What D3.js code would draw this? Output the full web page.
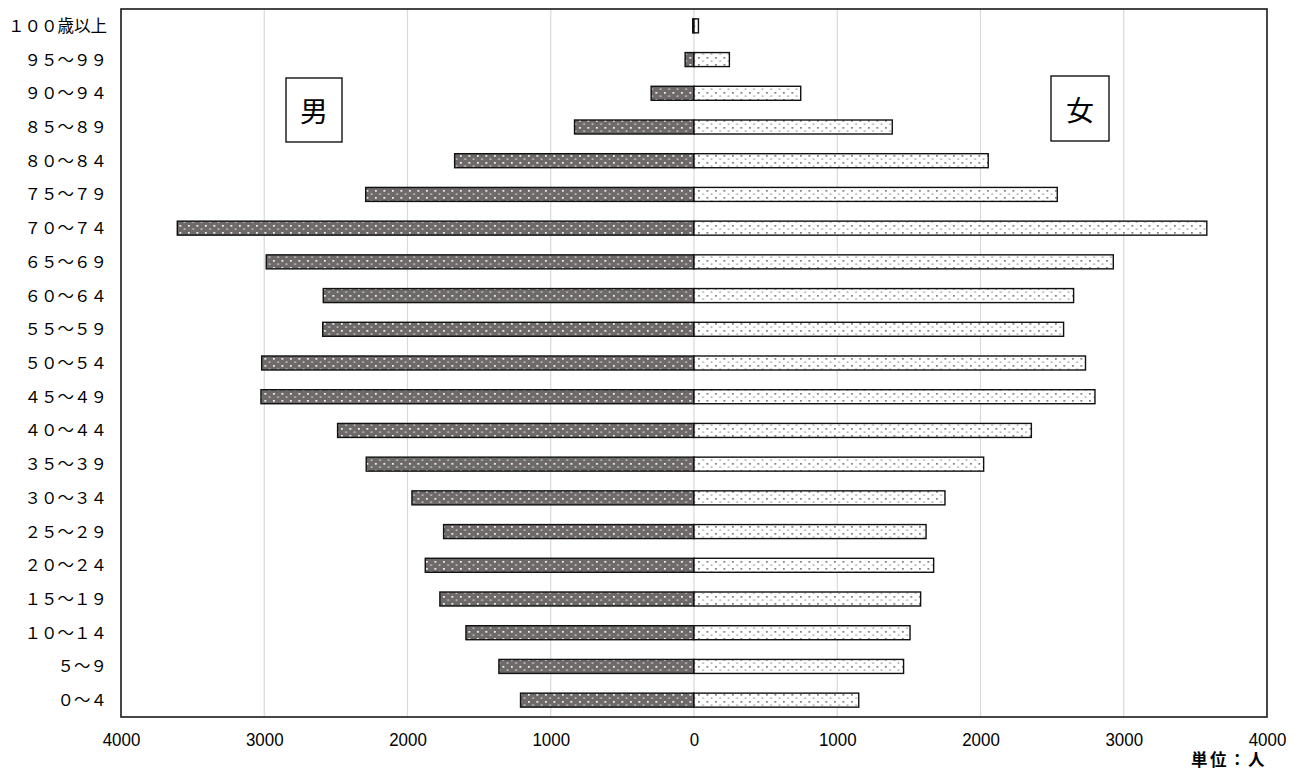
<!DOCTYPE html>
<html><head><meta charset="utf-8">
<script src="https://cdn.jsdelivr.net/npm/d3@7"></script>
<style>body{margin:0;background:#fff} svg{display:block}</style>
</head><body>
<svg id="chart" width="1298" height="771"></svg>
<script>
// Data (bottom to top)
const ageGroups = ["０～４","５～９","１０～１４","１５～１９","２０～２４","２５～２９","３０～３４","３５～３９","４０～４４","４５～４９","５０～５４","５５～５９","６０～６４","６５～６９","７０～７４","７５～７９","８０～８４","８５～８９","９０～９４","９５～９９","１００歳以上"];
const male =   [1211,1362,1592,1774,1876,1748,1969,2288,2488,3023,3018,2592,2588,2986,3607,2292,1671,834,299,62,9];
const female = [1150,1463,1508,1582,1673,1620,1752,2022,2355,2799,2733,2580,2650,2927,3580,2536,2054,1384,745,247,31];
const xTicks = [-4000,-3000,-2000,-1000,0,1000,2000,3000,4000];
const unitLabel = "単位：人";
const maleLabel = "男", femaleLabel = "女";

const svg = d3.select("#chart");
const L = 121, R = 1267, T = 9, B = 717;
const x = d3.scaleLinear().domain([-4000, 4000]).range([L, R]);
const y = d3.scaleBand().domain(ageGroups.slice().reverse()).range([T, B]).padding(0);
const barH = 14;

const defs = svg.append("defs");
const pm = defs.append("pattern").attr("id","pm").attr("patternUnits","userSpaceOnUse").attr("width",8.5).attr("height",7);
pm.append("rect").attr("width",8.5).attr("height",7).attr("fill","#6e6a6a");
pm.append("rect").attr("x",1).attr("y",1).attr("width",1.7).attr("height",1.7).attr("fill","#fff");
pm.append("rect").attr("x",5.25).attr("y",4.5).attr("width",1.7).attr("height",1.2).attr("fill","#e6e6e6");
const pf = defs.append("pattern").attr("id","pf").attr("patternUnits","userSpaceOnUse").attr("width",8.5).attr("height",7);
pf.append("rect").attr("width",8.5).attr("height",7).attr("fill","#fff");
pf.append("rect").attr("x",1).attr("y",1).attr("width",1.7).attr("height",1.7).attr("fill","#777");
pf.append("rect").attr("x",5.25).attr("y",4.5).attr("width",1.7).attr("height",1.2).attr("fill","#8e8e8e");

// gridlines
svg.append("g").selectAll("line").data(xTicks.filter(d => Math.abs(d) < 4000)).join("line")
  .attr("x1", d => x(d)).attr("x2", d => x(d)).attr("y1", T).attr("y2", B)
  .attr("stroke", "#d9d9d9").attr("stroke-width", 1.2);

const rows = ageGroups.map((a, i) => ({age: a, m: male[i], f: female[i]}));
// male bars
svg.append("g").selectAll("rect").data(rows).join("rect")
  .attr("x", d => x(-d.m)).attr("width", d => x(0) - x(-d.m))
  .attr("y", d => y(d.age) + y.bandwidth()/2 - barH/2).attr("height", barH)
  .attr("fill", "url(#pm)").attr("stroke", "#111").attr("stroke-width", 1.4);
// female bars
svg.append("g").selectAll("rect").data(rows).join("rect")
  .attr("x", x(0)).attr("width", d => x(d.f) - x(0))
  .attr("y", d => y(d.age) + y.bandwidth()/2 - barH/2).attr("height", barH)
  .attr("fill", "url(#pf)").attr("stroke", "#111").attr("stroke-width", 1.4);

// frame
svg.append("rect").attr("x", L).attr("y", T).attr("width", R - L).attr("height", B - T)
  .attr("fill", "none").attr("stroke", "#1a1a1a").attr("stroke-width", 1.6);

// x axis
const xa = svg.append("g").attr("transform", `translate(0,${B})`)
  .call(d3.axisBottom(x).tickValues(xTicks).tickSize(0).tickFormat(d => Math.abs(d)));
xa.select(".domain").remove();
xa.selectAll("text").attr("y", 29).attr("dy", 0)
  .attr("font-family", "'Liberation Sans', Arial, sans-serif").attr("font-size", 19).attr("fill", "#000")
  .attr("textLength", d => String(Math.abs(d)).length * 9.4).attr("lengthAdjust", "spacingAndGlyphs");

// y axis
const ya = svg.append("g").attr("transform", `translate(${L},0)`)
  .call(d3.axisLeft(y).tickSize(0).tickPadding(14));
ya.select(".domain").remove();
ya.selectAll("text").attr("dy", "0.36em")
  .attr("font-family", "'Noto Sans CJK JP', sans-serif").attr("font-size", 16.5).attr("fill", "#000");

// gender boxes
function genderBox(cx, cy, w, h, label) {
  svg.append("rect").attr("x", cx - w/2).attr("y", cy - h/2).attr("width", w).attr("height", h)
    .attr("fill", "#fff").attr("stroke", "#000").attr("stroke-width", 1.3);
  svg.append("text").attr("x", cx).attr("y", cy).attr("text-anchor", "middle").attr("dominant-baseline", "central")
    .attr("font-family", "'Noto Sans CJK JP', sans-serif").attr("font-size", 28).text(label);
}
genderBox(314, 110, 56, 64, maleLabel);
genderBox(1080, 108.5, 58, 65, femaleLabel);

// unit label
svg.append("text").attr("x", 1267).attr("y", 766).attr("text-anchor", "end")
  .attr("font-family", "'Noto Sans CJK JP', sans-serif").attr("font-size", 16.5).attr("font-weight", "bold")
  .attr("letter-spacing", 2.5).text(unitLabel);
</script>
</body></html>
